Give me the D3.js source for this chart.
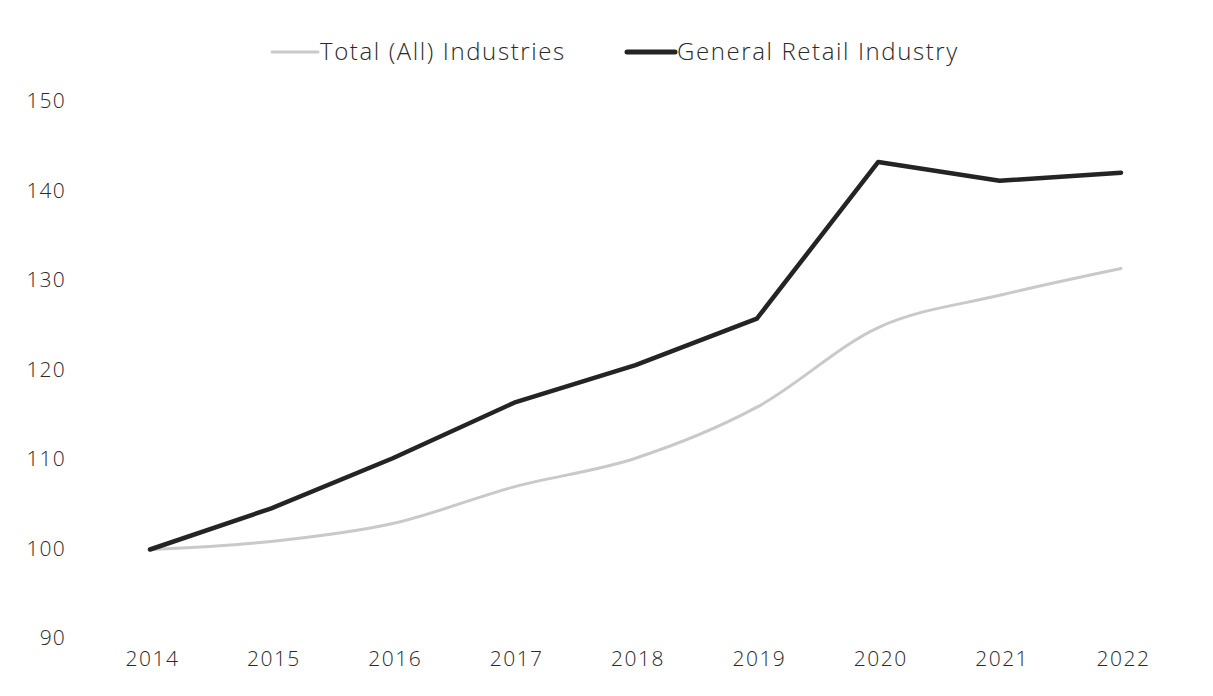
<!DOCTYPE html>
<html>
<head>
<meta charset="utf-8">
<script src="https://cdn.jsdelivr.net/npm/d3@7"></script>
<style>
    body { margin: 0; background: #fff; }
    text { font-family: "Open Sans", "Lato", sans-serif; fill: #2a2a2a; }
</style>
</head>
<body>
<div id="chart"></div>
<script>
// DATA
const years = [2014, 2015, 2016, 2017, 2018, 2019, 2020, 2021, 2022];
const totalIndustries = [100, 100.9, 102.9, 107.0, 110.2, 115.9, 124.8, 128.4, 131.4];
const retailIndustry = [100, 104.6, 110.2, 116.4, 120.6, 125.8, 143.3, 141.2, 142.1];
const yTicks = [90, 100, 110, 120, 130, 140, 150];
const seriesNames = ["Total (All) Industries", "General Retail Industry"];

const width = 1213
const height = 696

const x = d3.scalePoint()
    .domain(years)
    .range([150, 1121])

const y = d3.scaleLinear()
    .domain([90, 150])
    .range([639, 102])

const svg = d3.select("#chart")
    .append("svg")
    .attr("width", width)
    .attr("height", height)

// y axis labels, no line
svg.append("g")
    .attr("transform", "translate(66,-1)")
    .call(d3.axisLeft(y).tickValues(yTicks).tickSize(0).tickPadding(0))
    .call(g => g.select(".domain").remove())
    .call(g => g.selectAll("text")
        .attr("style", "font-size: 21px; font-weight: 300; fill: #2a2a2a; letter-spacing: 1.2px"))

// x axis labels
svg.append("g")
    .attr("transform", "translate(2,651)")
    .call(d3.axisBottom(x).tickSize(0).tickPadding(0).tickFormat(d3.format("d")))
    .call(g => g.select(".domain").remove())
    .call(g => g.selectAll("text")
        .attr("style", "font-size: 21px; font-weight: 300; fill: #2a2a2a; letter-spacing: 1.5px"))

const totalLine = d3.line()
    .x((d, i) => x(years[i]))
    .y(d => y(d))
    .curve(d3.curveMonotoneX)

const retailLine = d3.line()
    .x((d, i) => x(years[i]))
    .y(d => y(d))

svg.append("path")
    .datum(totalIndustries)
    .attr("d", totalLine)
    .attr("fill", "none")
    .attr("stroke", "#c9c9c9")
    .attr("stroke-width", 3)
    .attr("stroke-linecap", "round")

svg.append("path")
    .datum(retailIndustry)
    .attr("d", retailLine)
    .attr("fill", "none")
    .attr("stroke", "#242424")
    .attr("stroke-width", 4.5)
    .attr("stroke-linejoin", "round")
    .attr("stroke-linecap", "round")

// legend
const legend = [
    { name: seriesNames[0], x0: 272, x1: 318, color: "#c9c9c9", w: 3 },
    { name: seriesNames[1], x0: 627, x1: 675, color: "#242424", w: 5 },
]
const lg = svg.append("g").attr("transform", "translate(0,52)")
legend.forEach(l => {
    lg.append("line")
        .attr("x1", l.x0).attr("x2", l.x1)
        .attr("stroke", l.color)
        .attr("stroke-width", l.w)
        .attr("stroke-linecap", "round")
    lg.append("text")
        .attr("x", l.x1 + 2)
        .attr("dy", "0.35em")
        .attr("style", "font-size: 24px; font-weight: 300; letter-spacing: 1.6px")
        .text(l.name)
})
</script>
</body>
</html>
